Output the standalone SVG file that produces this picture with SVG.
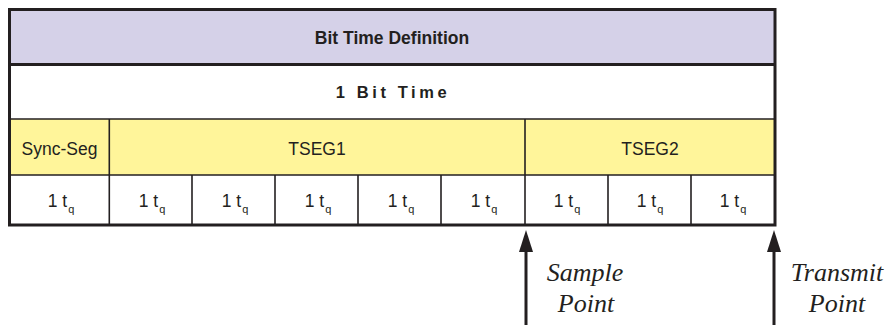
<svg xmlns="http://www.w3.org/2000/svg" width="887" height="325" viewBox="0 0 887 325">
<style>
.lbl{font-family:"Liberation Sans",Arial,sans-serif;font-size:17.5px;fill:#231F20;text-anchor:middle}
.b{font-weight:bold}
.sub{font-size:11px}
.it{font-family:"Liberation Serif","Times New Roman",serif;font-style:italic;font-size:26px;fill:#231F20;text-anchor:middle}
.thin{stroke:#231F20;stroke-width:1.6;fill:none}
.thick{stroke:#231F20;stroke-width:3;fill:none}
</style>
<defs>
<marker id="ah" viewBox="0 0 22 14" refX="0" refY="7" markerWidth="22" markerHeight="14" markerUnits="userSpaceOnUse" orient="auto">
<path d="M0 0 L22 7 L0 14 Z" fill="#231F20"/>
</marker>
</defs>
<g id="header">
<rect x="9.5" y="9.5" width="765.5" height="55" fill="#D5D1E8"/>
<text class="lbl b" x="392" y="44">Bit Time Definition</text>
</g>
<g id="bittime">
<rect x="9.5" y="64.5" width="765.5" height="55" fill="#FFFFFF"/>
<text class="lbl b" x="393" y="98" style="font-size:16.5px;letter-spacing:3.6px">1 Bit Time</text>
</g>
<g id="segments">
<rect x="9.5" y="119" width="765.5" height="56" fill="#FFF59A"/>
<text class="lbl" x="59.5" y="155">Sync-Seg</text>
<text class="lbl" x="317" y="155">TSEG1</text>
<text class="lbl" x="650" y="155">TSEG2</text>
</g>
<g id="quanta">
<rect x="9.5" y="175" width="765.5" height="50" fill="#FFFFFF"/>
<text class="lbl" x="61" y="207">1 t<tspan class="sub" dx="1" dy="6">q</tspan></text>
<text class="lbl" x="152" y="207">1 t<tspan class="sub" dx="1" dy="6">q</tspan></text>
<text class="lbl" x="235" y="207">1 t<tspan class="sub" dx="1" dy="6">q</tspan></text>
<text class="lbl" x="318" y="207">1 t<tspan class="sub" dx="1" dy="6">q</tspan></text>
<text class="lbl" x="401" y="207">1 t<tspan class="sub" dx="1" dy="6">q</tspan></text>
<text class="lbl" x="484" y="207">1 t<tspan class="sub" dx="1" dy="6">q</tspan></text>
<text class="lbl" x="567" y="207">1 t<tspan class="sub" dx="1" dy="6">q</tspan></text>
<text class="lbl" x="650" y="207">1 t<tspan class="sub" dx="1" dy="6">q</tspan></text>
<text class="lbl" x="733" y="207">1 t<tspan class="sub" dx="1" dy="6">q</tspan></text>
</g>
<g id="grid">
<line class="thin" x1="9.5" y1="119" x2="775" y2="119"/>
<line class="thin" x1="9.5" y1="175" x2="775" y2="175"/>
<line class="thin" x1="109.3" y1="119" x2="109.3" y2="225"/>
<line class="thin" x1="525" y1="119" x2="525" y2="225"/>
<line class="thin" x1="192" y1="175" x2="192" y2="225"/>
<line class="thin" x1="275" y1="175" x2="275" y2="225"/>
<line class="thin" x1="358" y1="175" x2="358" y2="225"/>
<line class="thin" x1="441" y1="175" x2="441" y2="225"/>
<line class="thin" x1="608" y1="175" x2="608" y2="225"/>
<line class="thin" x1="691" y1="175" x2="691" y2="225"/>
<line class="thick" x1="9.5" y1="64.5" x2="775" y2="64.5"/>
<rect class="thick" x="9.5" y="9.5" width="765.5" height="215.5"/>
</g>
<g id="connectors">
<line x1="526" y1="325" x2="526" y2="252" stroke="#231F20" stroke-width="3" marker-end="url(#ah)"/>
<line x1="774" y1="325" x2="774" y2="252" stroke="#231F20" stroke-width="3" marker-end="url(#ah)"/>
</g>
<g id="sample-point">
<text class="it" x="585" y="281">Sample</text>
<text class="it" x="586" y="312">Point</text>
</g>
<g id="transmit-point">
<text class="it" x="837" y="281">Transmit</text>
<text class="it" x="837" y="312">Point</text>
</g>
</svg>
